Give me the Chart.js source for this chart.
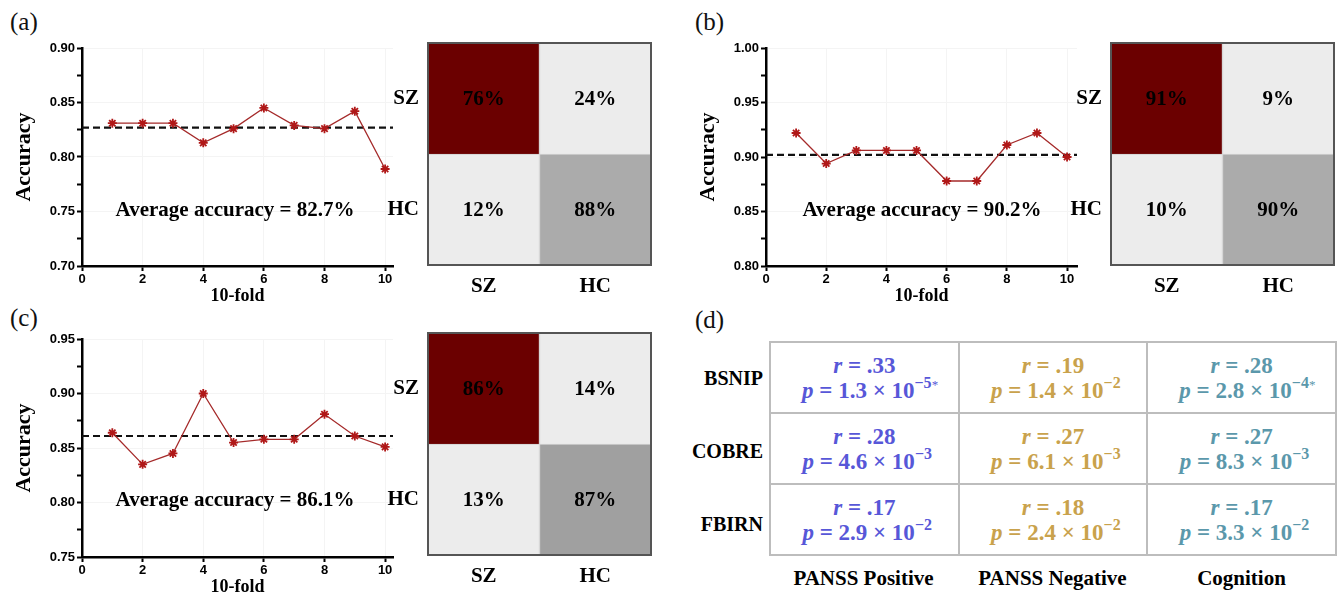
<!DOCTYPE html>
<html>
<head>
<meta charset="utf-8">
<script src="https://cdn.jsdelivr.net/npm/chart.js@4.4.1/dist/chart.umd.min.js"></script>
<style>
  body { margin: 0; background: #fff; width: 1338px; height: 593px; overflow: hidden; position: relative; font-family: "Liberation Serif", serif; }
  canvas, .abs { position: absolute; }
  .panel { font-size: 25px; line-height: 1; color: #111; }
  .rowlab { font-weight: bold; font-size: 20px; text-align: right; width: 90px; line-height: 1; }
  .collab { font-weight: bold; font-size: 21px; text-align: center; width: 189px; line-height: 1; }
  table.corr { border-collapse: collapse; width: 568px; table-layout: fixed; }
  table.corr td { border: 2px solid #bdbdbd; height: 69px; padding: 0; text-align: center; font-weight: bold; font-size: 23px; line-height: 25px; }
  table.corr sup { font-size: 16px; vertical-align: 10px; line-height: 0; }
  table.corr .star { font-size: 13px; vertical-align: 9px; line-height: 0; font-weight: normal; }
</style>
</head>
<body>

<div class="abs panel" style="left:10px;top:9px">(a)</div>
<div class="abs panel" style="left:695px;top:9px">(b)</div>
<div class="abs panel" style="left:10px;top:305px">(c)</div>
<div class="abs panel" style="left:695px;top:307px">(d)</div>

<canvas id="lineA" width="410" height="310" style="left:0;top:0"></canvas>
<canvas id="confA" width="285" height="275" style="left:370px;top:30px"></canvas>
<canvas id="lineB" width="410" height="310" style="left:684px;top:0"></canvas>
<canvas id="confB" width="285" height="275" style="left:1053px;top:30px"></canvas>
<canvas id="lineC" width="410" height="310" style="left:0;top:291px"></canvas>
<canvas id="confC" width="285" height="275" style="left:370px;top:320px"></canvas>

<div id="tableD"></div>

<script>
// ---- data ----
const folds = [1, 2, 3, 4, 5, 6, 7, 8, 9, 10];
const xTicks = [0, 2, 4, 6, 8, 10];

const accA = [0.831, 0.831, 0.831, 0.813, 0.826, 0.845, 0.829, 0.826, 0.842, 0.789];
const accB = [0.922, 0.894, 0.906, 0.906, 0.906, 0.878, 0.878, 0.911, 0.922, 0.900];
const accC = [0.864, 0.835, 0.845, 0.900, 0.855, 0.858, 0.858, 0.881, 0.861, 0.851];
const meanA = 0.827;
const meanB = 0.902;
const meanC = 0.861;

const classLabels = ['SZ', 'HC'];
// rows = true class (SZ, HC), columns = predicted (SZ, HC)
const confA = [[76, 24], [12, 88]];
const confB = [[91, 9], [10, 90]];
const confC = [[86, 14], [13, 87]];

const cohorts = ['BSNIP', 'COBRE', 'FBIRN'];
const measures = ['PANSS Positive', 'PANSS Negative', 'Cognition'];
const rValues = [['.33', '.19', '.28'], ['.28', '.27', '.27'], ['.17', '.18', '.17']];
const pMantissa = [['1.3', '1.4', '2.8'], ['4.6', '6.1', '8.3'], ['2.9', '2.4', '3.3']];
const pExponent = [[-5, -2, -4], [-3, -3, -3], [-2, -2, -2]];
const pStar = [[true, false, true], [false, false, false], [false, false, false]];
const measureColors = ['#5757d8', '#c9a24c', '#5b98ab'];

const serif = 'Liberation Serif';
const sans = 'Liberation Sans';

// text inside the line charts
const avgLabel = {
  id: 'avgLabel',
  afterDatasetsDraw(chart, args, opts) {
    const { ctx, scales } = chart;
    ctx.save();
    ctx.font = 'bold 21px "' + serif + '"';
    ctx.fillStyle = '#000';
    ctx.textAlign = 'center';
    ctx.textBaseline = 'middle';
    ctx.fillText(opts.text, scales.x.getPixelForValue(opts.x), scales.y.getPixelForValue(opts.y));
    ctx.restore();
  }
};

const isMajor = v => Math.abs(v * 20 - Math.round(v * 20)) < 1e-6;

function lineChart(id, vals, mean, yMin, yMax, xMax, avgText, avgX, avgY) {
  new Chart(document.getElementById(id), {
    type: 'line',
    data: {
      datasets: [
        {
          data: folds.map((f, i) => ({ x: f, y: vals[i] })),
          borderColor: '#a52a2a',
          borderWidth: 1.3,
          pointStyle: 'star',
          pointRadius: 4.5,
          pointBorderColor: '#b01818',
          pointBorderWidth: 1.8,
          tension: 0
        },
        {
          data: [{ x: 0, y: mean }, { x: xMax, y: mean }],
          borderColor: '#111',
          borderWidth: 2.2,
          borderDash: [7, 4],
          pointRadius: 0
        }
      ]
    },
    options: {
      responsive: false,
      animation: false,
      layout: { padding: { left: 10, top: 48, right: 17, bottom: 0 } },
      plugins: {
        legend: { display: false },
        tooltip: { enabled: false },
        avgLabel: { text: avgText, x: avgX, y: avgY }
      },
      scales: {
        x: {
          type: 'linear',
          min: 0,
          max: xMax,
          afterBuildTicks: s => { s.ticks = xTicks.map(v => ({ value: v })); },
          afterFit: s => { s.height = 44; },
          border: { color: '#000', width: 2.5 },
          grid: { color: '#f4f4f4', tickColor: '#000', tickLength: 5, tickWidth: 2 },
          ticks: { font: { family: sans, weight: 'bold', size: 13 }, color: '#000', padding: 1, maxRotation: 0 },
          title: { display: true, text: '10-fold', color: '#000', font: { family: serif, weight: 'bold', size: 18 }, padding: { top: 0, bottom: 3 } }
        },
        y: {
          min: yMin,
          max: yMax,
          afterFit: s => { s.width = 72; },
          border: { color: '#000', width: 2.5 },
          grid: {
            color: c => (c.tick && isMajor(c.tick.value)) ? '#f4f4f4' : 'rgba(0,0,0,0)',
            tickColor: '#000', tickLength: 5, tickWidth: 2
          },
          ticks: {
            stepSize: 0.025,
            callback: v => isMajor(v) ? v.toFixed(2) : '',
            font: { family: sans, weight: 'bold', size: 13 },
            color: '#000',
            padding: 2
          },
          title: { display: true, text: 'Accuracy', color: '#000', font: { family: serif, weight: 'bold', size: 22 }, padding: { top: 1, bottom: 0 } }
        }
      }
    },
    plugins: [avgLabel]
  });
}

// percentages and frame of the confusion matrices
const cellText = {
  id: 'cellText',
  afterDatasetsDraw(chart) {
    const { ctx, chartArea } = chart;
    ctx.save();
    ctx.font = 'bold 21px "' + serif + '"';
    ctx.fillStyle = '#000';
    ctx.textAlign = 'center';
    ctx.textBaseline = 'middle';
    chart.data.datasets.forEach((ds, di) => {
      chart.getDatasetMeta(di).data.forEach((bar, i) => {
        ctx.fillText(ds.pct[i] + '%', bar.x, (bar.y + bar.base) / 2 + 1);
      });
    });
    ctx.strokeStyle = '#555';
    ctx.lineWidth = 2;
    ctx.strokeRect(chartArea.left, chartArea.top, chartArea.right - chartArea.left, chartArea.bottom - chartArea.top);
    ctx.restore();
  }
};

function confChart(id, conf, grey) {
  const dark = '#6b0000';
  const light = '#ececec';
  new Chart(document.getElementById(id), {
    type: 'bar',
    data: {
      labels: classLabels,
      datasets: [
        { data: conf[1].map(() => 1), pct: conf[1], backgroundColor: [light, grey] },
        { data: conf[0].map(() => 1), pct: conf[0], backgroundColor: [dark, light] }
      ]
    },
    options: {
      responsive: false,
      animation: false,
      layout: { padding: { left: 0, top: 13, right: 4, bottom: 0 } },
      datasets: { bar: { categoryPercentage: 1, barPercentage: 1, borderWidth: 1, borderColor: '#d2d2d2' } },
      plugins: { legend: { display: false }, tooltip: { enabled: false } },
      scales: {
        x: {
          stacked: true,
          afterFit: s => { s.height = 40; s.paddingLeft = 0; s.paddingRight = 0; },
          grid: { display: false, drawTicks: false },
          border: { display: false },
          ticks: { font: { family: serif, weight: 'bold', size: 21 }, color: '#000', padding: 9 }
        },
        y: {
          stacked: true,
          min: 0,
          max: 2,
          afterBuildTicks: s => { s.ticks = [{ value: 0.5 }, { value: 1.5 }]; },
          afterFit: s => { s.width = 58; s.paddingTop = 0; s.paddingBottom = 0; },
          grid: { display: false, drawTicks: false },
          border: { display: false },
          ticks: {
            callback: v => v > 1 ? classLabels[0] : classLabels[1],
            font: { family: serif, weight: 'bold', size: 21 },
            color: '#000',
            padding: 9
          }
        }
      }
    },
    plugins: [cellText]
  });
}

lineChart('lineA', accA, meanA, 0.70, 0.90, 10.26, 'Average accuracy = 82.7%', 5.05, 0.751);
lineChart('lineB', accB, meanB, 0.80, 1.00, 10.33, 'Average accuracy = 90.2%', 5.18, 0.851);
lineChart('lineC', accC, meanC, 0.75, 0.95, 10.26, 'Average accuracy = 86.1%', 5.05, 0.802);

confChart('confA', confA, '#ababab');
confChart('confB', confB, '#ababab');
confChart('confC', confC, '#a0a0a0');

// ---- table (d) ----
const holder = document.getElementById('tableD');
let html = '<table class="corr abs" style="left:769px;top:341px">';
cohorts.forEach((c, i) => {
  html += '<tr>';
  measures.forEach((m, j) => {
    html += '<td style="color:' + measureColors[j] + '">' +
      '<div><i>r</i> = ' + rValues[i][j] + '</div>' +
      '<div>&nbsp;&nbsp;<i>p</i> = ' + pMantissa[i][j] + ' × 10<sup>−' + Math.abs(pExponent[i][j]) + '</sup>' +
      (pStar[i][j] ? '<span class="star">*</span>' : '&nbsp;') + '</div></td>';
  });
  html += '</tr>';
});
html += '</table>';
cohorts.forEach((c, i) => {
  html += '<div class="abs rowlab" style="left:673px;top:' + (368 + i * 73) + 'px">' + c + '</div>';
});
measures.forEach((m, j) => {
  html += '<div class="abs collab" style="left:' + (769 + j * 189) + 'px;top:568px">' + m + '</div>';
});
holder.innerHTML = html;
</script>
</body>
</html>
